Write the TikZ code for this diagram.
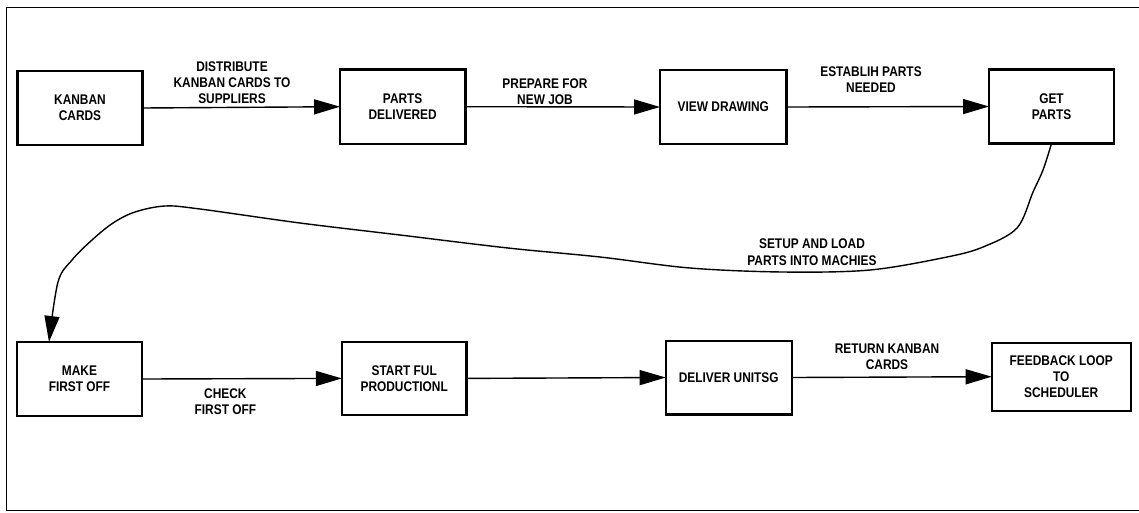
\documentclass[tikz,border=0pt]{standalone}
\usepackage{fontspec}
\setmainfont{Liberation Sans}[FakeStretch=0.85,BoldFont={Liberation Sans Bold}]
\usetikzlibrary{arrows.meta}
\newcommand\diagfont{\fontsize{14}{16.3}\selectfont\bfseries}
\begin{document}
\begin{tikzpicture}[x=1pt,y=-1pt,
  box/.style={draw, line width=2.4pt, inner sep=0pt, outer sep=0pt, align=center, font=\diagfont},
  lbl/.style={align=center, font=\diagfont, inner sep=0pt},
  conn/.style={line width=1.4pt, -{Triangle[length=26pt,width=15pt]}}]
\useasboundingbox (0,0) rectangle (1139,512);
% frame
\draw[line width=1.6pt] (1139,7.5) -- (6.5,7.5) -- (6.5,510.5) -- (1139,510.5);
% row 1
\node[box, minimum width=125pt, minimum height=74pt] (kanban) at (80,108) {KANBAN\\CARDS};
\node[box, minimum width=125.3pt, minimum height=74.7pt] (parts) at (402.7,106.7) {PARTS\\DELIVERED};
\node[box, minimum width=126.6pt, minimum height=74pt] (view) at (723.3,107) {VIEW DRAWING};
\node[box, minimum width=125pt, minimum height=74pt] (get) at (1051.5,106.5) {GET\\PARTS};
% row 2
\node[box, minimum width=124.5pt, minimum height=74pt] (make) at (79.5,379) {MAKE\\FIRST OFF};
\node[box, minimum width=124.7pt, minimum height=73.3pt] (start) at (404.2,378.4) {START FUL\\PRODUCTIONL};
\node[box, minimum width=126pt, minimum height=73.6pt] (deliver) at (728.7,377.5) {DELIVER UNITSG};
\node[box, minimum width=139pt, minimum height=68pt] (feedback) at (1061.2,376.7) {FEEDBACK LOOP\\TO\\SCHEDULER};
% labels
\node[lbl] (l1) at (232,82.8) {DISTRIBUTE\\KANBAN CARDS TO\\SUPPLIERS};
\node[lbl] (l2) at (545,92) {PREPARE FOR\\NEW JOB};
\node[lbl] (l3) at (871,79.5) {ESTABLIH PARTS\\NEEDED};
\node[lbl] (l4) at (812,252.2) {SETUP AND LOAD\\PARTS INTO MACHIES};
\node[lbl] (l5) at (225.4,402) {CHECK\\FIRST OFF};
\node[lbl] (l6) at (887,357) {RETURN KANBAN\\CARDS};
% connectors
\draw[conn] (kanban.east) -- (parts.west);
\draw[conn] (parts.east) -- (view.west);
\draw[conn] (view.east) -- (get.west);
\draw[conn] (make.east) -- (start.west);
\draw[conn] (start.east) -- (deliver.west);
\draw[conn] (deliver.east) -- (feedback.west);
\draw[conn] plot[smooth, tension=0.55] coordinates {(get.south) (1043,170) (1033,192) (1017,228) (983,247) (947,257) (870,270) (783,272) (690,268) (600,257) (508,248) (400,235) (300,223) (200,209) (165,206) (135,212) (113,223) (92,240) (72,260) (58,282) ([xshift=-30.5pt]make.north)};
\end{tikzpicture}
\end{document}
